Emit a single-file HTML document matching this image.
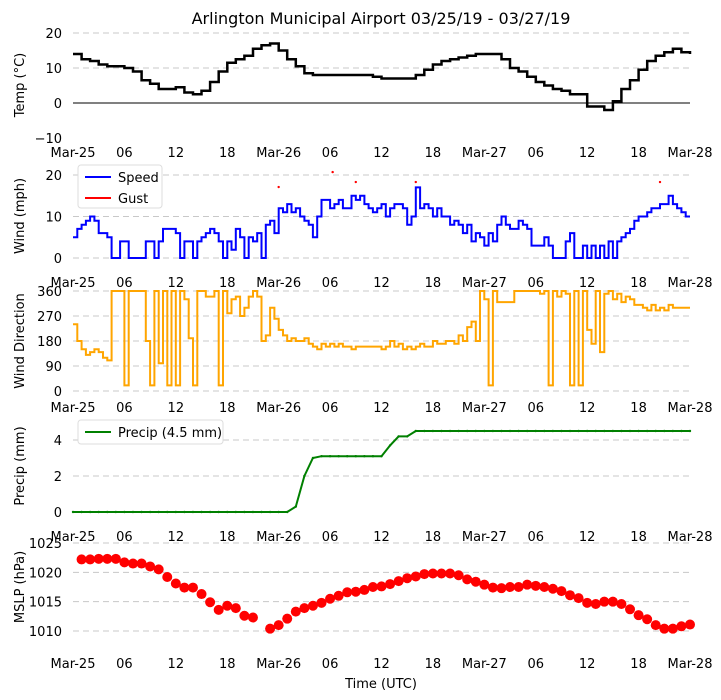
<!DOCTYPE html>
<html><head><meta charset="utf-8">
<style>
body{margin:0;background:#fff;}
svg{display:block;font-family:"DejaVu Sans","Liberation Sans",sans-serif;}
</style></head>
<body>
<svg id="chart" width="721" height="700" viewBox="0 0 721 700">
<text x="381" y="24" font-size="16" text-anchor="middle">Arlington Municipal Airport 03/25/19 - 03/27/19</text>
<text x="381" y="688" font-size="13" text-anchor="middle">Time (UTC)</text>
</svg>
<script>
const xTickLabels = ["Mar-25","06","12","18","Mar-26","06","12","18","Mar-27","06","12","18","Mar-28"];
const xTickHours = [0,6,12,18,24,30,36,42,48,54,60,66,72];
const tempHours = Array.from({length:73},(_, i)=>i);
const tempValues = [14,12.5,12,11,10.5,10.5,10,9,6.5,5.5,4,4,4.5,3,2.5,3.5,6,9,11.5,12.5,13.5,15.5,16.5,17,15,12.5,10.5,8.5,8,8,8,8,8,8,8,7.5,7,7,7,7,8,9.5,11,12,12.5,13,13.5,14,14,14,12.5,10,9,7.5,6,5,4,3.5,2.5,2.5,-1,-1,-2,0.5,4,6.5,9.5,12,13.5,14.5,15.5,14.5,14];
const windHours = Array.from({length:145},(_, i)=>i/2);
const windSpeed = [5,7,8,9,10,9,6,6,5,0,0,4,4,0,0,0,0,4,4,0,4,7,7,7,6,0,4,4,0,4,5,6,7,6,4,0,4,2,7,5,0,5,4,6,0,8,9,6,12,11,13,11,12,10,9,8,5,10,14,14,12,13,14,12,12,15,14,15,13,12,11,12,13,10,12,13,13,12,8,10,17,12,13,12,10,12,10,10,8,9,8,6,8,4,6,5,3,6,4,8,10,8,7,7,9,8,7,3,3,3,5,3,0,0,0,4,6,0,0,3,0,3,0,3,0,4,0,4,5,6,7,9,10,10,11,12,12,13,13,15,13,12,11,10,10];
const gustHours = [24,30.3,33,40,68.5];
const gustValues = [17.1,20.7,18.3,18.3,18.3];
const windDir = [240,180,150,130,140,150,140,120,110,360,360,360,20,360,360,360,360,180,20,360,100,360,20,360,20,360,330,190,20,360,360,340,340,360,20,360,280,330,340,270,300,340,360,340,180,200,300,260,220,200,180,190,180,180,190,170,160,150,170,160,170,160,170,160,160,150,160,160,160,160,160,160,150,160,180,160,170,150,160,150,160,170,160,160,180,170,170,180,180,170,200,180,230,250,180,360,330,20,360,320,320,320,320,360,360,360,360,360,360,350,360,20,360,340,360,350,20,360,20,360,220,170,360,140,350,360,330,350,320,340,330,310,310,300,290,310,290,300,290,310,300,300,300,300,300];
const precipHours = Array.from({length:73},(_, i)=>i);
const precipValues = [0,0,0,0,0,0,0,0,0,0,0,0,0,0,0,0,0,0,0,0,0,0,0,0,0,0,0.3,2.0,3.0,3.1,3.1,3.1,3.1,3.1,3.1,3.1,3.1,3.7,4.2,4.2,4.5,4.5,4.5,4.5,4.5,4.5,4.5,4.5,4.5,4.5,4.5,4.5,4.5,4.5,4.5,4.5,4.5,4.5,4.5,4.5,4.5,4.5,4.5,4.5,4.5,4.5,4.5,4.5,4.5,4.5,4.5,4.5,4.5];
const mslpHours = Array.from({length:72},(_, i)=>i+1);
const mslpValues = [1022.2,1022.2,1022.3,1022.3,1022.3,1021.7,1021.5,1021.5,1021.0,1020.5,1019.2,1018.1,1017.4,1017.4,1016.3,1014.9,1013.6,1014.3,1013.9,1012.6,1012.3,null,1010.4,1011.0,1012.1,1013.3,1013.9,1014.3,1014.8,1015.5,1016.0,1016.6,1016.7,1017.0,1017.5,1017.6,1018.0,1018.5,1019.0,1019.3,1019.7,1019.8,1019.8,1019.8,1019.5,1018.8,1018.4,1017.9,1017.4,1017.3,1017.5,1017.5,1017.9,1017.7,1017.5,1017.2,1016.8,1016.1,1015.6,1014.8,1014.6,1015.0,1015.0,1014.6,1013.7,1012.7,1012.0,1011.0,1010.4,1010.4,1010.8,1011.1];

const svg = document.getElementById('chart');
const NS = 'http://www.w3.org/2000/svg';
const X0 = 73, X1 = 690;
const xs = h => X0 + (X1 - X0) * h / 72;
function mk(tag, attrs, parent){
  const e = document.createElementNS(NS, tag);
  for (const k in attrs) e.setAttribute(k, attrs[k]);
  (parent||svg).appendChild(e);
  return e;
}
function panel(name, ymin, ymax, ytop, ybot, yticks, gridVals, labelY, ylabel, labelYpos){
  const g = mk('g', {});
  
  
  const ys = v => ybot - (ybot - ytop) * (v - ymin) / (ymax - ymin);
  gridVals.forEach(v => {
    const l = mk('line', {x1:X0, x2:X1, y1:ys(v), y2:ys(v), stroke:'#c8c8c8', 'stroke-width':1, 'stroke-dasharray':'6,4'}, g);
    
    
  });
  yticks.forEach(v => {
    const t = mk('text', {x:62, y:ys(v)+5, 'font-size':13, 'text-anchor':'end'}, g);
    t.textContent = (v < 0 ? '\u2212' + Math.abs(v) : v);
    
    
  });
  xTickHours.forEach((h, i) => {
    const t = mk('text', {x:xs(h), y:labelY, 'font-size':13, 'text-anchor':'middle'}, g);
    t.textContent = xTickLabels[i];
    
    
  });
  const yl = mk('text', {x:0, y:0, 'font-size':13, 'text-anchor':'middle', transform:`translate(24,${labelYpos}) rotate(-90)`}, g);
  yl.textContent = ylabel;
  
  
  return {g, ys};
}
function line(g, hours, vals, ys, color, w, name, step){
  let d = '', pen = false, prevY = 0;
  vals.forEach((v, i) => {
    if (v === null) { pen = false; return; }
    const x = xs(hours[i]).toFixed(1), y = ys(v).toFixed(1);
    if (pen && step) d += 'L' + x + ',' + prevY;
    d += (pen ? 'L' : 'M') + x + ',' + y;
    prevY = y;
    pen = true;
  });
  const p = mk('path', {d, fill:'none', stroke:color, 'stroke-width':w}, g);
  
  
  return p;
}
function legend(g, x, y, w, h, items){
  const lg = mk('g', {}, g);
  
  
  mk('rect', {x, y, width:w, height:h, rx:3, fill:'#fff', stroke:'#ddd'}, lg);
  items.forEach((it, i) => {
    const cy = y + 12 + i * 21;
    mk('line', {x1:x+7, x2:x+33, y1:cy, y2:cy, stroke:it.c, 'stroke-width':2}, lg);
    const t = mk('text', {x:x+40, y:cy+5, 'font-size':13}, lg);
    t.textContent = it.t;
    
    
  });
}

// Temperature
const p1 = panel('temp', -10, 20, 33, 138, [20,10,0,-10], [20,10], 157, 'Temp (\u00b0C)', 85);
const z = mk('line', {x1:X0, x2:X1, y1:p1.ys(0), y2:p1.ys(0), stroke:'#000', 'stroke-width':1}, p1.g);


line(p1.g, tempHours, tempValues, p1.ys, '#000', 2.5, 'temp-line', true);

// Wind speed
const p2 = panel('wind', 0, 20, 175, 258, [20,10,0], [20,10,0], 287, 'Wind (mph)', 216);
line(p2.g, windHours, windSpeed, p2.ys, '#0000ff', 2, 'wind-speed-line', true);
gustHours.forEach((h, i) => {
  const c = mk('circle', {cx:xs(h), cy:p2.ys(gustValues[i]), r:1.2, fill:'#ff0000'}, p2.g);
  
  
});
legend(p2.g, 78, 165, 84, 43, [{t:'Speed', c:'#0000ff'}, {t:'Gust', c:'#ff0000'}]);

// Wind direction
const p3 = panel('wind-dir', 0, 360, 291, 391, [360,270,180,90,0], [360,270,180,90,0], 412, 'Wind Direction', 341);
line(p3.g, windHours, windDir, p3.ys, '#ffa500', 2, 'wind-direction-line', true);

// Precip
const p4 = panel('precip', 0, 5, 422, 512, [4,2,0], [4,2], 541, 'Precip (mm)', 466);
line(p4.g, precipHours, precipValues, p4.ys, '#008000', 2, 'precip-line', false);
precipHours.forEach((h, i) => {
  const c = mk('circle', {cx:xs(h), cy:p4.ys(precipValues[i]), r:1.2, fill:'#008000'}, p4.g);
  
  
});
legend(p4.g, 78, 420, 145, 24, [{t:'Precip (4.5 mm)', c:'#008000'}]);

// MSLP
const p5 = panel('mslp', 1010, 1025, 543, 631, [1025,1020,1015,1010], [1025,1020,1015,1010], 668, 'MSLP (hPa)', 587);
mslpValues.forEach((v, i) => {
  if (v === null) return;
  const c = mk('circle', {cx:xs(mslpHours[i]), cy:p5.ys(v), r:5, fill:'#ff0000'}, p5.g);
  
  
});
</script>
</body></html>
